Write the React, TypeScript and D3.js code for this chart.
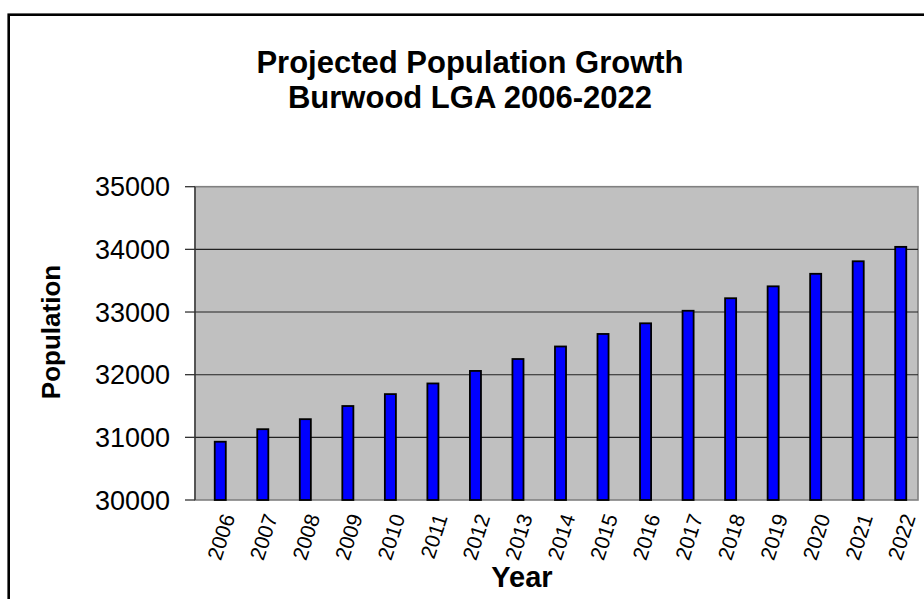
import React from "react";
import * as d3 from "d3";

const years = ["2006","2007","2008","2009","2010","2011","2012","2013","2014","2015","2016","2017","2018","2019","2020","2021","2022"];
const population = [30930,31130,31290,31500,31690,31860,32060,32250,32450,32650,32820,33020,33220,33410,33610,33810,34040];
const yTicks = [30000,31000,32000,33000,34000,35000];
const titleLines = ["Projected Population Growth","Burwood LGA 2006-2022"];

const W = 924, H = 599;
const plot = { left: 195, right: 918, top: 186.7, bottom: 500 };

export default function App() {
  const x = d3.scaleBand<string>().domain(years).range([plot.left + 4, plot.right + 4]).paddingInner(0.74).paddingOuter(0.37);
  const y = d3.scaleLinear().domain([30000, 35000]).range([plot.bottom, plot.top]);
  const font = "Arial, 'Liberation Sans', sans-serif";
  return (
    <svg width={W} height={H} style={{ position: "absolute", left: 0, top: 0, background: "#fff" }} fontFamily={font}>
      <rect x={8.7} y={14.7} width={1000} height={1000} fill="#fff" stroke="#000" strokeWidth={2.6} />
      {titleLines.map((t, i) => (
        <text key={t} x={470} y={73 + i * 35} textAnchor="middle" fontWeight="bold" fontSize={31}>{t}</text>
      ))}
      <rect x={plot.left} y={plot.top} width={plot.right - plot.left} height={plot.bottom - plot.top} fill="#c0c0c0" stroke="#808080" strokeWidth={1.6} />
      {yTicks.filter(v => v !== 30000 && v !== 35000).map(v => (
        <line key={v} x1={plot.left} x2={plot.right} y1={y(v)} y2={y(v)} stroke="#222" strokeWidth={1.1} />
      ))}
      <line x1={plot.left} x2={plot.left} y1={plot.top} y2={plot.bottom} stroke="#333" strokeWidth={1.3} />
      {yTicks.map(v => (
        <g key={v}>
          <line x1={plot.left - 10} x2={plot.left} y1={y(v)} y2={y(v)} stroke="#333" strokeWidth={1.3} />
          <text x={170} y={y(v)} dy="0.36em" textAnchor="end" fontSize={27}>{v}</text>
        </g>
      ))}
      {years.map((yr, i) => (
        <rect key={yr} x={x(yr)} y={y(population[i])} width={x.bandwidth()} height={plot.bottom - y(population[i])} fill="#0000ff" stroke="#000" strokeWidth={1.8} />
      ))}
      {years.map(yr => (
        <text key={yr} transform={`translate(${(x(yr) as number) + x.bandwidth() / 2 + 15},517) rotate(-72)`} textAnchor="end" fontSize={21}>{yr}</text>
      ))}
      <text x={522} y={587} textAnchor="middle" fontWeight="bold" fontSize={29}>Year</text>
      <text transform={`translate(60,332) rotate(-90)`} textAnchor="middle" fontWeight="bold" fontSize={26}>Population</text>
    </svg>
  );
}
